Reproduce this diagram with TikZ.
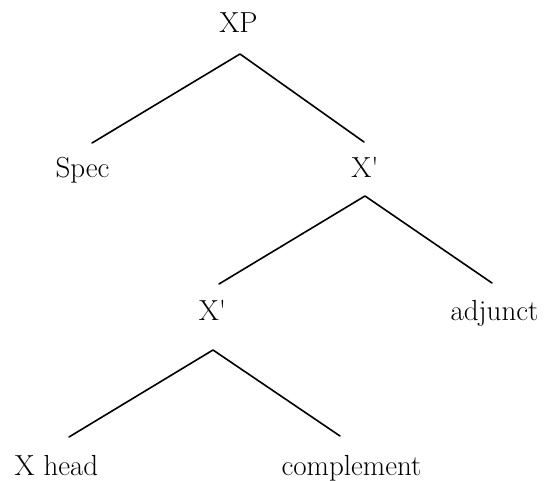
\documentclass[tikz,border=0pt]{standalone}
\usepackage{tikz}

\begin{document}
\begin{tikzpicture}[x=1pt, y=-1pt,
    lab/.style={anchor=base, inner sep=0pt, font=\fontsize{29}{34}\selectfont},
    branch/.style={line width=1.6pt, line join=round, line cap=round}]
  \useasboundingbox (0,0) rectangle (544,481);
  % Labels of the tree
  \node[lab] (xp) at (238.5,33) {XP};
  \node[lab] (spec) at (82.5,178) {Spec};
  \node[lab] (xbar1) at (365,178) {X\textquotesingle};
  \node[lab] (xbar2) at (212.5,321) {X\textquotesingle};
  \node[lab] (adj) at (494.5,320) {adjunct};
  \node[lab] (head) at (56.5,475) {X head};
  \node[lab] (comp) at (351.5,475) {complement};
  % Branch points and feet
  \coordinate (xp-b) at (240,54);
  \coordinate (spec-t) at (92,143);
  \coordinate (xbar1-t) at (364,142);
  \coordinate (xbar1-b) at (365,196);
  \coordinate (xbar2-t) at (219,284);
  \coordinate (adj-t) at (492,283);
  \coordinate (xbar2-b) at (213,350);
  \coordinate (head-t) at (69,437);
  \coordinate (comp-t) at (340,436);
  \draw[branch] (spec-t) -- (xp-b) -- (xbar1-t);
  \draw[branch] (xbar2-t) -- (xbar1-b) -- (adj-t);
  \draw[branch] (head-t) -- (xbar2-b) -- (comp-t);
\end{tikzpicture}
\end{document}
